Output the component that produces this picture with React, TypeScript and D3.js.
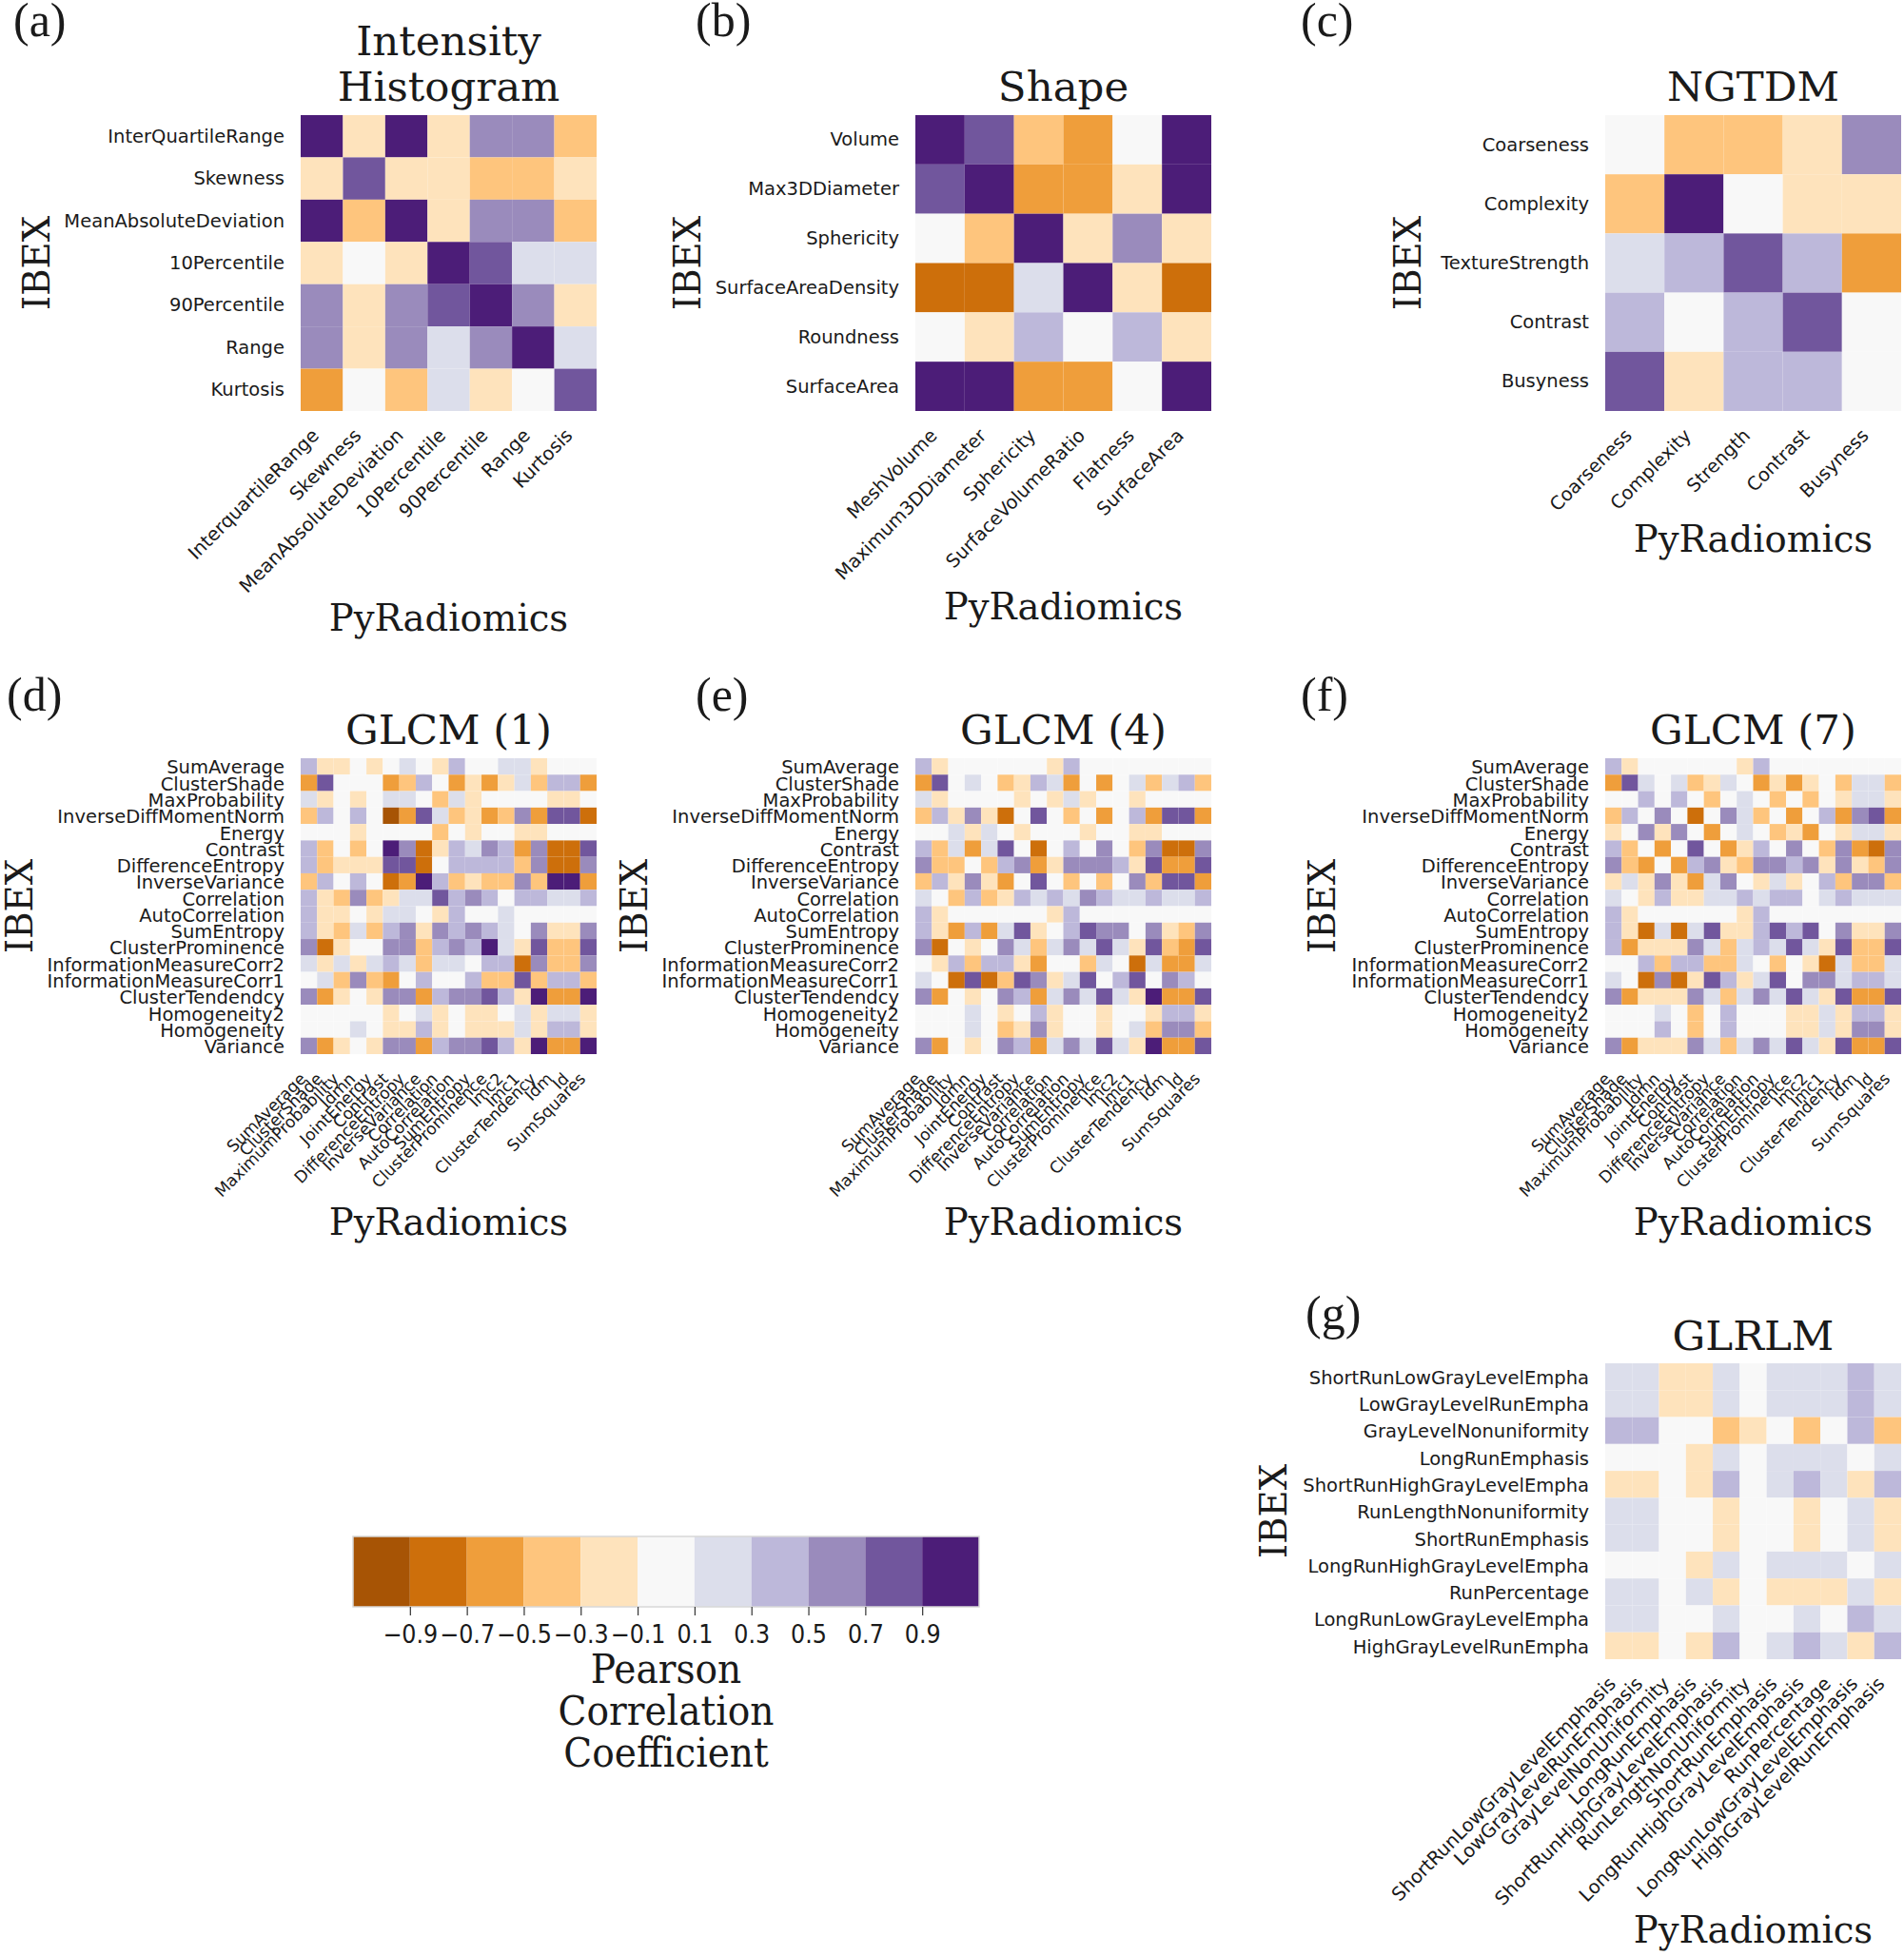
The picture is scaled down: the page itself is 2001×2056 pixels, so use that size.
import { useEffect, useRef } from 'react'
import * as d3 from 'd3'

const cbTicks = [-0.9, -0.7, -0.5, -0.3, -0.1, 0.1, 0.3, 0.5, 0.7, 0.9]
const cbColors = ['#a75405', '#cd6f0b', '#ef9e3b', '#fec57d', '#fee3bc', '#f8f8f8', '#dcdeeb', '#bdb8da', '#9a8bbc', '#71569d', '#4c1d78']

// cell values are in steps of 0.2 correlation (one step per colour band)
const histX = ['InterquartileRange', 'Skewness', 'MeanAbsoluteDeviation', '10Percentile', '90Percentile', 'Range', 'Kurtosis']
const histY = ['InterQuartileRange', 'Skewness', 'MeanAbsoluteDeviation', '10Percentile', '90Percentile', 'Range', 'Kurtosis']
const histValues = [
  [5, -1, 5, -1, 3, 3, -2],
  [-1, 4, -1, -1, -2, -2, -1],
  [5, -2, 5, -1, 3, 3, -2],
  [-1, 0, -1, 5, 4, 1, 1],
  [3, -1, 3, 4, 5, 3, -1],
  [3, -1, 3, 1, 3, 5, 1],
  [-3, 0, -2, 1, -1, 0, 4],
]

const shapeX = ['MeshVolume', 'Maximum3DDiameter', 'Sphericity', 'SurfaceVolumeRatio', 'Flatness', 'SurfaceArea']
const shapeY = ['Volume', 'Max3DDiameter', 'Sphericity', 'SurfaceAreaDensity', 'Roundness', 'SurfaceArea']
const shapeValues = [
  [5, 4, -2, -3, 0, 5],
  [4, 5, -3, -3, -1, 5],
  [0, -2, 5, -1, 3, -1],
  [-4, -4, 1, 5, -1, -4],
  [0, -1, 2, 0, 2, -1],
  [5, 5, -3, -3, 0, 5],
]

const ngtdmX = ['Coarseness', 'Complexity', 'Strength', 'Contrast', 'Busyness']
const ngtdmY = ['Coarseness', 'Complexity', 'TextureStrength', 'Contrast', 'Busyness']
const ngtdmValues = [
  [0, -2, -2, -1, 3],
  [-2, 5, 0, -1, -1],
  [1, 2, 4, 2, -3],
  [2, 0, 2, 4, 0],
  [4, -1, 2, 2, 0],
]

const glcmX = ['SumAverage', 'ClusterShade', 'MaximumProbability', 'Idmn', 'JointEnergy', 'Contrast', 'DifferenceEntropy', 'InverseVariance', 'Correlation', 'AutoCorrelation', 'SumEntropy', 'ClusterProminence', 'Imc2', 'Imc1', 'ClusterTendency', 'Idm', 'Id', 'SumSquares']
const glcmY = ['SumAverage', 'ClusterShade', 'MaxProbability', 'InverseDiffMomentNorm', 'Energy', 'Contrast', 'DifferenceEntropy', 'InverseVariance', 'Correlation', 'AutoCorrelation', 'SumEntropy', 'ClusterProminence', 'InformationMeasureCorr2', 'InformationMeasureCorr1', 'ClusterTendendcy', 'Homogeneity2', 'Homogeneity', 'Variance']
const glcm1Values = [
  [2, -1, -1, 0, -1, 0, 1, 0, -1, 2, 0, 0, 1, 1, -1, 0, 0, 0],
  [-3, 4, 0, 0, 0, -3, -2, 2, 0, -3, -1, -3, -1, 1, -2, 2, 2, -3],
  [1, -1, 0, -1, 0, 1, 1, 0, -2, 1, -1, 0, 0, 0, 0, -1, -1, 0],
  [-2, 2, 0, 2, 0, -5, -3, 4, 1, -2, -1, -3, -2, 3, -3, 4, 4, -4],
  [0, 0, 0, -1, 0, 0, 0, 0, -2, 0, -1, 0, 0, -1, -1, 0, 0, 0],
  [2, -2, 0, -2, 0, 5, 3, -4, -1, 2, 1, 3, 2, -3, 3, -4, -4, 4],
  [2, -2, -1, -1, -1, 4, 4, -4, 0, 2, 2, 2, 2, -2, 3, -4, -4, 3],
  [-2, 2, 0, 2, 0, -4, -3, 5, 2, -2, -1, -2, -2, 3, -2, 5, 5, -3],
  [2, -1, -2, 3, -2, -1, 1, 1, 4, 2, 3, 2, 0, 2, 2, 1, 1, 2],
  [2, -1, -1, 0, -1, 1, 1, 0, -1, 2, 0, 0, 1, 0, 0, 0, 0, 0],
  [2, -1, -2, 1, -2, 2, 3, -1, 3, 2, 3, 2, 1, 0, 3, -1, -1, 3],
  [3, -4, -1, 0, 0, 3, 3, -2, 2, 3, 2, 5, 1, -1, 4, -2, -2, 4],
  [1, -1, 1, -1, 1, 2, 1, -2, 1, 1, 0, 2, 2, -4, 3, -2, -2, 3],
  [0, 1, -2, 3, -2, -3, 0, 2, 0, 0, 2, -2, -2, 4, -2, 2, 2, -2],
  [3, -3, -1, 0, -1, 3, 3, -3, 2, 3, 3, 4, 2, -1, 5, -3, -3, 5],
  [0, 0, 0, 0, 0, -1, 0, 1, -1, 0, -1, -1, 0, 1, -1, 1, 1, -1],
  [0, 0, 0, 1, 0, -1, -1, 2, -1, 0, -1, -1, -1, 1, -1, 2, 2, -1],
  [3, -3, -1, 0, -1, 3, 3, -3, 2, 3, 3, 4, 2, -1, 5, -3, -3, 5],
]
const glcm4Values = [
  [2, -1, 0, 0, 0, 0, 0, 0, -1, 2, 0, 0, 0, 0, 0, 0, 0, 0],
  [-3, 4, 0, 1, 0, -2, -1, 2, 1, -3, 0, -3, 0, 1, -2, 1, 2, -2],
  [1, -1, 0, 0, 0, 0, -1, 0, -1, 1, -1, 0, 0, -1, 0, 0, 0, 0],
  [-2, 2, -1, 3, -1, -4, 0, 4, 0, -2, 0, -3, 0, 2, -3, 4, 4, -3],
  [0, 0, 1, -1, 1, 0, -1, 0, 0, 0, -1, 0, 0, -1, -1, 0, 0, 0],
  [2, -2, 1, -3, 1, 4, 0, -4, 0, 2, 0, 3, 0, -2, 3, -4, -4, 3],
  [3, -2, -2, 0, -2, 2, 3, -3, -1, 3, 3, 3, 2, -1, 4, -3, -3, 4],
  [-2, 2, -1, 3, -1, -3, 0, 4, 0, -2, 0, -2, 0, 3, -2, 4, 4, -3],
  [1, 0, -2, 2, -2, -1, 2, 1, 2, 1, 3, 2, 1, 1, 2, 1, 1, 2],
  [2, -1, 0, 0, 0, 0, 0, 0, -1, 2, 0, 0, 0, 0, 0, 0, 0, 0],
  [2, -1, -3, 2, -3, 1, 4, -1, 0, 2, 4, 3, 3, 0, 3, -1, -2, 3],
  [3, -4, 0, -1, 0, 3, 1, -2, 1, 3, 1, 4, 1, -1, 4, -2, -3, 4],
  [0, -1, 2, -2, 2, 2, -1, -3, 0, 0, -2, 1, 0, -4, 1, -3, -3, 1],
  [1, 0, -4, 4, -4, -2, 4, 3, -1, 1, 4, 0, 2, 4, 0, 3, 2, 0],
  [3, -3, 0, -1, 0, 3, 2, -3, 1, 3, 1, 4, 1, -1, 5, -3, -3, 4],
  [0, 0, 0, 1, 0, -1, 0, 2, -1, 0, 0, -1, 0, 0, -1, 2, 2, -1],
  [0, 0, 0, 1, 0, -2, -1, 3, -1, 0, 0, -1, 0, 1, -2, 3, 3, -2],
  [3, -3, 0, -1, 0, 3, 2, -3, 1, 3, 1, 4, 1, -1, 5, -3, -3, 4],
]
const glcm7Values = [
  [2, -1, 0, 0, 0, 0, 0, 0, -1, 2, 0, 0, 0, 0, 0, 0, 0, 0],
  [-3, 4, 1, 0, 1, -2, -1, 1, 0, -3, -1, -3, -1, 0, -2, 1, 1, -2],
  [0, 0, 2, 0, 2, 0, -2, 0, 1, 0, -2, 0, -2, 0, -1, 1, 1, -1],
  [-2, 2, 0, 3, 0, -4, 0, 3, 1, -2, 0, -3, 0, 2, -3, 3, 4, -3],
  [-1, 0, 3, -1, 3, 0, -3, 0, 1, 0, -2, -1, -3, 0, -1, 1, 1, -1],
  [2, -2, 0, -3, 0, 4, 0, -3, -1, 2, 0, 3, 0, -2, 3, -3, -4, 3],
  [3, -2, -3, 0, -3, 2, 3, -1, -2, 3, 3, 2, 3, -1, 3, -1, -2, 3],
  [-1, 1, -1, 3, -1, -3, 1, 3, 0, -1, 1, -1, 0, 2, -2, 3, 3, -2],
  [1, 0, -1, 2, -1, -1, 1, 1, 2, 1, 2, 2, 0, 1, 2, 1, 1, 1],
  [2, -1, 0, 0, 0, 0, 0, 0, -1, 2, 0, 0, 0, 0, 0, 0, 0, 0],
  [2, -1, -4, 1, -4, 1, 4, -1, -1, 2, 4, 2, 4, 0, 3, -1, -1, 3],
  [2, -3, -1, -1, -1, 3, 1, -2, 1, 2, 1, 4, 1, -1, 4, -2, -2, 4],
  [0, 0, 2, -2, 2, 2, -2, -2, 1, 0, -2, 0, -1, -4, 1, -2, -2, 1],
  [1, 0, -4, 3, -4, -1, 4, 2, -1, 1, 4, 0, 3, 3, 1, 2, 2, 1],
  [3, -3, -1, -1, -1, 3, 1, -2, 1, 3, 1, 4, 1, -1, 4, -3, -3, 4],
  [0, 0, 0, 1, 0, -2, 0, 2, 0, 0, 0, -1, -1, 1, -1, 2, 2, -1],
  [0, 0, 0, 2, 0, -2, 0, 2, 0, 0, 0, -1, -1, 1, -1, 3, 3, -1],
  [3, -3, -1, -1, -1, 3, 1, -2, 1, 3, 1, 4, 1, -1, 4, -3, -3, 4],
]

const glrlmX = ['ShortRunLowGrayLevelEmphasis', 'LowGrayLevelRunEmphasis', 'GrayLevelNonUniformity', 'LongRunEmphasis', 'ShortRunHighGrayLevelEmphasis', 'RunLengthNonUniformity', 'ShortRunEmphasis', 'LongRunHighGrayLevelEmphasis', 'RunPercentage', 'LongRunLowGrayLevelEmphasis', 'HighGrayLevelRunEmphasis']
const glrlmY = ['ShortRunLowGrayLevelEmpha', 'LowGrayLevelRunEmpha', 'GrayLevelNonuniformity', 'LongRunEmphasis', 'ShortRunHighGrayLevelEmpha', 'RunLengthNonuniformity', 'ShortRunEmphasis', 'LongRunHighGrayLevelEmpha', 'RunPercentage', 'LongRunLowGrayLevelEmpha', 'HighGrayLevelRunEmpha']
const glrlmValues = [
  [1, 1, -1, -1, 1, 0, 1, 1, 1, 2, 1],
  [1, 1, -1, -1, 1, 0, 1, 1, 1, 2, 1],
  [2, 2, 0, 0, -2, -1, 0, -2, 0, 2, -2],
  [0, 0, 0, -1, 1, 0, 1, 1, 1, 0, 1],
  [-1, -1, 0, -1, 2, 0, 1, 2, 1, -1, 2],
  [1, 1, 0, 0, -1, 0, 0, -1, 0, 1, -1],
  [1, 1, 0, 0, -1, 0, 0, -1, 0, 1, -1],
  [0, 0, 0, -1, 1, 0, 1, 1, 1, 0, 1],
  [1, 1, 0, 1, -1, 0, -1, -1, -1, 1, -1],
  [1, 1, 0, 0, 1, 0, 0, 1, 0, 2, 1],
  [-1, -1, 0, -1, 2, 0, 1, 2, 1, -1, 2],
]

const SERIF = '"DejaVu Serif", serif'
const SANS = '"DejaVu Sans", sans-serif'
const TEXT = '#1a1a1a'

const color = d3.scaleThreshold<number, string>().domain(cbTicks).range(cbColors)

type Panel = {
  tag: string; tagX: number; tagY: number
  title: string[]; titleY: number
  xNames: string[]; yNames: string[]; values: number[][]
  left: number; top: number; xLabelY: number; ibexX: number; xFont: number; yNudge: number
}

const SIZE = 311
const panels: Panel[] = [
  { tag: '(a)', tagX: 14, tagY: 38, title: ['Intensity', 'Histogram'], titleY: 106, xNames: histX, yNames: histY, values: histValues, left: 316, top: 121, xLabelY: 663, ibexX: 52, xFont: 19.7, yNudge: 0.3 },
  { tag: '(b)', tagX: 731, tagY: 38, title: ['Shape'], titleY: 106, xNames: shapeX, yNames: shapeY, values: shapeValues, left: 962, top: 121, xLabelY: 651, ibexX: 736, xFont: 19.5, yNudge: 0.3 },
  { tag: '(c)', tagX: 1367, tagY: 38, title: ['NGTDM'], titleY: 106, xNames: ngtdmX, yNames: ngtdmY, values: ngtdmValues, left: 1687, top: 121, xLabelY: 580, ibexX: 1493, xFont: 19.5, yNudge: 0.3 },
  { tag: '(d)', tagX: 7, tagY: 747, title: ['GLCM (1)'], titleY: 782, xNames: glcmX, yNames: glcmY, values: glcm1Values, left: 316, top: 797, xLabelY: 1298, ibexX: 34, xFont: 17.2, yNudge: 1.5 },
  { tag: '(e)', tagX: 731, tagY: 747, title: ['GLCM (4)'], titleY: 782, xNames: glcmX, yNames: glcmY, values: glcm4Values, left: 962, top: 797, xLabelY: 1298, ibexX: 680, xFont: 17.2, yNudge: 1.5 },
  { tag: '(f)', tagX: 1367, tagY: 747, title: ['GLCM (7)'], titleY: 782, xNames: glcmX, yNames: glcmY, values: glcm7Values, left: 1687, top: 797, xLabelY: 1298, ibexX: 1403, xFont: 17.2, yNudge: 1.5 },
  { tag: '(g)', tagX: 1372, tagY: 1397, title: ['GLRLM'], titleY: 1419, xNames: glrlmX, yNames: glrlmY, values: glrlmValues, left: 1687, top: 1433, xLabelY: 2042, ibexX: 1352, xFont: 19.7, yNudge: 1.5 },
]

function drawPanel(root: d3.Selection<SVGGElement, unknown, null, undefined>, p: Panel) {
  const x = d3.scaleBand<string>().domain(p.xNames).range([0, SIZE])
  const y = d3.scaleBand<string>().domain(p.yNames).range([0, SIZE])
  const g = root.append('g').attr('transform', `translate(${p.left},${p.top})`)
  const cx = p.left + SIZE / 2

  g.selectAll(null)
    .data(p.values.flatMap((row, r) => row.map((v, c) => ({ r, c, v }))))
    .enter()
    .append('rect')
    .attr('x', (d) => x(p.xNames[d.c]) as number)
    .attr('y', (d) => y(p.yNames[d.r]) as number)
    .attr('width', x.bandwidth())
    .attr('height', y.bandwidth())
    .attr('fill', (d) => color(d.v * 0.2))

  const yAxis = g.append('g').call(d3.axisLeft(y).tickSize(0).tickPadding(17) as any)
  yAxis.select('.domain').remove()
  yAxis.selectAll('text')
    .attr('font-family', SANS)
    .attr('font-size', 19.5)
    .attr('fill', TEXT)
    .attr('transform', `translate(0,${p.yNudge})`)

  const xAxis = g.append('g').attr('transform', `translate(0,${SIZE})`).call(d3.axisBottom(x).tickSize(0).tickPadding(0) as any)
  xAxis.select('.domain').remove()
  xAxis.selectAll('text')
    .attr('font-family', SANS)
    .attr('font-size', p.xFont)
    .attr('fill', TEXT)
    .attr('text-anchor', 'end')
    .attr('dy', 0)
    .attr('y', 0)
    .attr('transform', 'translate(-2,27) rotate(-45)')

  const title = root.append('text').attr('font-family', SERIF).attr('font-size', 43.5).attr('fill', TEXT).attr('text-anchor', 'middle')
  p.title.forEach((line, i) => {
    title.append('tspan').attr('x', cx).attr('y', p.titleY - (p.title.length - 1 - i) * 48.5).text(line)
  })

  root.append('text').attr('x', cx).attr('y', p.xLabelY).attr('font-family', SERIF).attr('font-size', 38.6).attr('fill', TEXT).attr('text-anchor', 'middle').text('PyRadiomics')
  root.append('text')
    .attr('transform', `translate(${p.ibexX},${p.top + SIZE / 2}) rotate(-90)`)
    .attr('font-family', SERIF).attr('font-size', 38.6).attr('fill', TEXT).attr('text-anchor', 'middle').text('IBEX')
  root.append('text').attr('x', p.tagX).attr('y', p.tagY).attr('font-family', '"Liberation Serif", serif').attr('font-size', 50).attr('fill', TEXT).text(p.tag)
}

function drawColorbar(root: d3.Selection<SVGGElement, unknown, null, undefined>) {
  const left = 371, right = 1029, top = 1615, bottom = 1689
  const step = 0.2
  const x = d3.scaleLinear().domain([-0.9 - step, 0.9 + step]).range([left, right])
  const edges = [-0.9 - step, ...cbTicks, 0.9 + step]
  const g = root.append('g')
  g.selectAll(null)
    .data(cbColors)
    .enter()
    .append('rect')
    .attr('x', (_, i) => x(edges[i]))
    .attr('y', top)
    .attr('width', (_, i) => x(edges[i + 1]) - x(edges[i]))
    .attr('height', bottom - top)
    .attr('fill', (d) => d)
  g.append('rect').attr('x', left).attr('y', top).attr('width', right - left).attr('height', bottom - top).attr('fill', 'none').attr('stroke', '#d8d8d8').attr('stroke-width', 1.5)

  const axis = g.append('g').attr('transform', `translate(0,${bottom})`).call(
    d3.axisBottom(x).tickValues(cbTicks).tickSize(9).tickPadding(10).tickFormat(d3.format('.1f') as any) as any,
  )
  axis.select('.domain').remove()
  axis.selectAll('line').attr('stroke', '#333').attr('stroke-width', 1.2)
  axis.selectAll('text').attr('font-family', SANS).attr('font-size', 26.5).attr('fill', TEXT).attr('transform', 'scale(0.9,1)')

  const label = ['Pearson', 'Correlation', 'Coefficient']
  label.forEach((line, i) => {
    root.append('text')
      .attr('transform', `translate(700,${1769 + i * 44}) scale(0.9,1)`)
      .attr('font-family', SERIF).attr('font-size', 43.5).attr('fill', TEXT).attr('text-anchor', 'middle').text(line)
  })
}

export default function App() {
  const ref = useRef<SVGGElement | null>(null)
  useEffect(() => {
    const root = d3.select(ref.current as SVGGElement)
    root.selectAll('*').remove()
    panels.forEach((p) => drawPanel(root as any, p))
    drawColorbar(root as any)
  }, [])
  return (
    <svg width={2001} height={2056} style={{ position: 'absolute', left: 0, top: 0, background: '#fff' }}>
      <g ref={ref} />
    </svg>
  )
}
